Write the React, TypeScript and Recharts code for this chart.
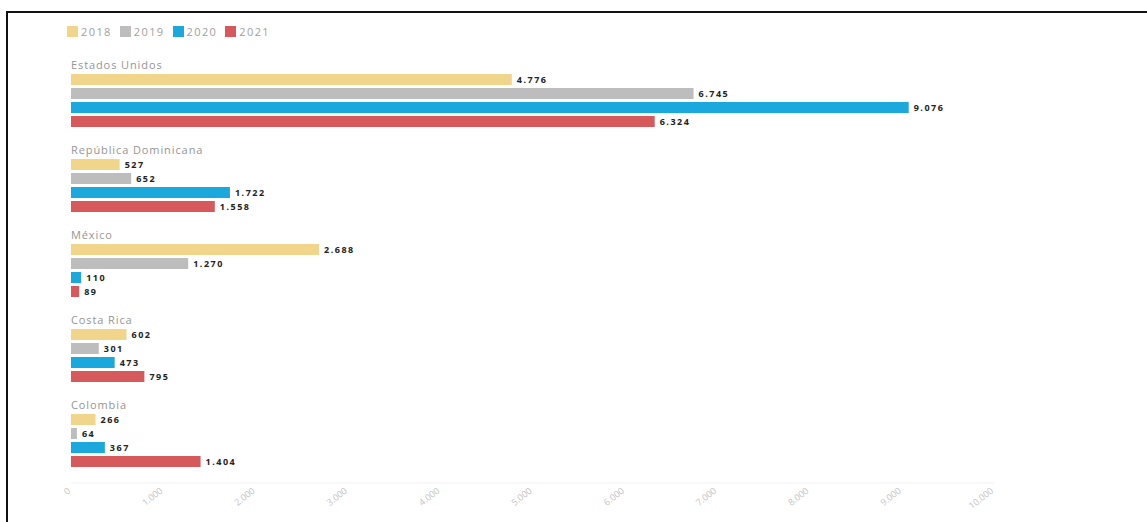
import React from 'react';
import { BarChart, Bar, XAxis, YAxis, LabelList } from 'recharts';

const countries = ['Estados Unidos', 'República Dominicana', 'México', 'Costa Rica', 'Colombia'];
const y2018 = [4776, 527, 2688, 602, 266];
const y2019 = [6745, 652, 1270, 301, 64];
const y2020 = [9076, 1722, 110, 473, 367];
const y2021 = [6324, 1558, 89, 795, 1404];
const xTicks = [0, 1000, 2000, 3000, 4000, 5000, 6000, 7000, 8000, 9000, 10000];

const series = [
  { key: 'y2018', name: '2018', color: '#f1d58b' },
  { key: 'y2019', name: '2019', color: '#bdbdbd' },
  { key: 'y2020', name: '2020', color: '#1ba9dd' },
  { key: 'y2021', name: '2021', color: '#d65a5c' },
];

const data = countries.map((country, i) => ({
  country,
  y2018: y2018[i],
  y2019: y2019[i],
  y2020: y2020[i],
  y2021: y2021[i],
}));

const FONT = '"Open Sans", sans-serif';

// thousands with a dot, like 4.776
const fmt = (v: number) => {
  if (v < 1000) return String(v);
  const rest = String(v % 1000).padStart(3, '0');
  return `${Math.floor(v / 1000)}.${rest}`;
};

const CountryLabel = (props: any) => {
  const { x, y, value } = props;
  return (
    <text x={x} y={y - 5} fill="#959595" fontSize={11} letterSpacing={0.9} fontFamily={FONT}>
      {value}
    </text>
  );
};

const XTick = (props: any) => {
  const { x, y, payload } = props;
  return (
    <g transform={`translate(${x},${y + 1})`}>
      <text textAnchor="end" fill="#c4c4c4" fontSize={9} fontFamily={FONT} transform="rotate(-38)">
        {fmt(payload.value)}
      </text>
    </g>
  );
};

const App: React.FC = () => {
  return (
    <div style={{ position: 'absolute', left: 0, top: 0, width: 1147, height: 522, overflow: 'hidden', background: '#fff' }}>
      <div
        style={{
          position: 'absolute',
          left: 6,
          top: 11,
          width: 1200,
          height: 600,
          borderLeft: '2px solid #111',
          borderTop: '2px solid #111',
        }}
      />
      <div style={{ position: 'absolute', left: 67, top: 24, display: 'flex', alignItems: 'center', fontFamily: FONT }}>
        {series.map((s) => (
          <div key={s.key} style={{ display: 'flex', alignItems: 'center', marginRight: 8 }}>
            <div style={{ width: 11, height: 11, background: s.color, marginRight: 3 }} />
            <span style={{ fontSize: 11, color: '#a0a0a0', letterSpacing: 1.4 }}>{s.name}</span>
          </div>
        ))}
      </div>
      <div style={{ position: 'absolute', left: 0, top: 0 }}>
        <BarChart
          width={1147}
          height={522}
          data={data}
          layout="vertical"
          margin={{ top: 58, right: 153, left: 71, bottom: 0 }}
          barCategoryGap={16}
          barGap={3}
        >
          <XAxis
            type="number"
            domain={[0, 10000]}
            ticks={xTicks}
            height={39}
            axisLine={{ stroke: '#f2f2f2' }}
            tickLine={false}
            tick={<XTick />}
            interval={0}
          />
          <YAxis type="category" dataKey="country" hide width={0} />
          {series.map((s, idx) => (
            <Bar key={s.key} dataKey={s.key} name={s.name} fill={s.color} isAnimationActive={false}>
              {idx === 0 && <LabelList dataKey="country" content={<CountryLabel />} />}
              <LabelList
                dataKey={s.key}
                position="right"
                offset={5}
                formatter={(v: any) => fmt(Number(v))}
                fill="#222"
                stroke="none"
                fontSize={9}
                fontWeight="bold"
                letterSpacing={1.5}
                fontFamily={FONT}
              />
            </Bar>
          ))}
        </BarChart>
      </div>
    </div>
  );
};

export default App;
